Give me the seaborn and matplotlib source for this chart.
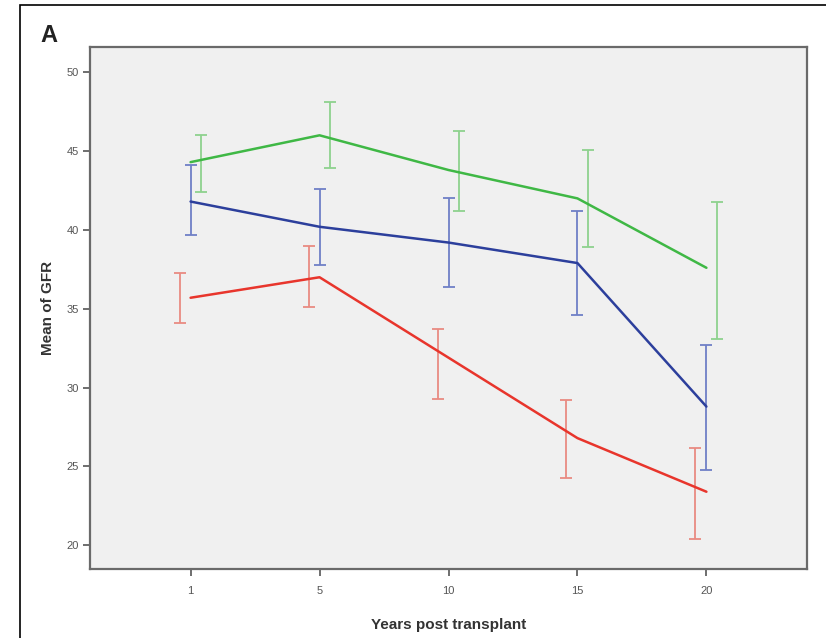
import numpy as np
import pandas as pd
import matplotlib
matplotlib.use("Agg")
import matplotlib.pyplot as plt
import seaborn as sns
from matplotlib.patches import Rectangle

# ---- data ----
years = ["1", "5", "10", "15", "20"]
groups = ["Green", "Blue", "Red"]

green_mean = [44.3, 46.0, 43.8, 42.0, 37.6]
green_low = [42.4, 43.9, 41.2, 38.9, 33.1]
green_high = [46.0, 48.1, 46.3, 45.1, 41.8]

blue_mean = [41.8, 40.2, 39.2, 37.9, 28.8]
blue_low = [39.7, 37.8, 36.4, 34.6, 24.8]
blue_high = [44.1, 42.6, 42.0, 41.2, 32.7]

red_mean = [35.7, 37.0, 31.9, 26.8, 23.4]
red_low = [34.1, 35.1, 29.3, 24.3, 20.4]
red_high = [37.3, 39.0, 33.7, 29.2, 26.2]

line_colors = {"Green": "#3fb845", "Blue": "#2c3f9c", "Red": "#e8352c"}
bar_colors = {"Green": "#8ed28e", "Blue": "#6f80c6", "Red": "#e98b82"}
offsets = {"Green": 0.08, "Blue": 0.0, "Red": -0.085}

means = {"Green": green_mean, "Blue": blue_mean, "Red": red_mean}
lows = {"Green": green_low, "Blue": blue_low, "Red": red_low}
highs = {"Green": green_high, "Blue": blue_high, "Red": red_high}

rows = []
for g in groups:
    for i, y in enumerate(years):
        rows.append({"pos": i, "year": y, "group": g, "gfr": means[g][i]})
df = pd.DataFrame(rows)

sns.set_theme(style="white")
plt.rcParams["font.family"] = ["Liberation Sans", "DejaVu Sans"]

fig = plt.figure(figsize=(8.26, 6.38), dpi=100)
ax = fig.add_axes([90 / 826, 1 - 569 / 638, (807 - 90) / 826, (569 - 47) / 638])
ax.set_facecolor("#f0f0f0")

# error bars (dodged slightly, as in the reference)
pos = np.arange(len(years))
for g in groups:
    m = np.array(means[g])
    lo = m - np.array(lows[g])
    hi = np.array(highs[g]) - m
    ax.errorbar(pos + offsets[g], m, yerr=[lo, hi], fmt="none",
                ecolor=bar_colors[g], elinewidth=1.3, capsize=4.5,
                capthick=1.3, zorder=2)

sns.lineplot(data=df, x="pos", y="gfr", hue="group", palette=line_colors,
             hue_order=groups, linewidth=1.8, legend=False, ax=ax, zorder=3)

ax.set_xlim(-0.78, 4.78)
ax.set_ylim(18.5, 51.6)
ax.set_xticks(pos)
ax.set_xticklabels(years)
ax.set_yticks([20, 25, 30, 35, 40, 45, 50])

for s in ax.spines.values():
    s.set_color("#6a6a6a")
    s.set_linewidth(1.6)

ax.tick_params(axis="both", which="both", direction="out", length=5,
               width=1.2, color="#555555", labelsize=8,
               labelcolor="#555555", bottom=True, left=True)
ax.tick_params(axis="x", pad=7)
ax.tick_params(axis="y", pad=3)

ax.set_xlabel("Years post transplant", fontsize=11, fontweight="bold",
              color="#333333", labelpad=16)
ax.set_ylabel("Mean of GFR", fontsize=11, fontweight="bold",
              color="#333333", labelpad=8)

# panel letter
fig.text(40 / 826, 1 - 35 / 638, "A", fontsize=17, fontweight="bold",
         color="#222222", va="center", ha="left")

# frame around the figure (clipped at the right and bottom, as in the reference)
fig.patches.append(Rectangle((20 / 826, -0.1), 1.2, 1.1 - 5 / 638,
                             transform=fig.transFigure, fill=False,
                             edgecolor="black", linewidth=1.2, zorder=10))

fig.savefig("out.png", dpi=100, facecolor="white")
